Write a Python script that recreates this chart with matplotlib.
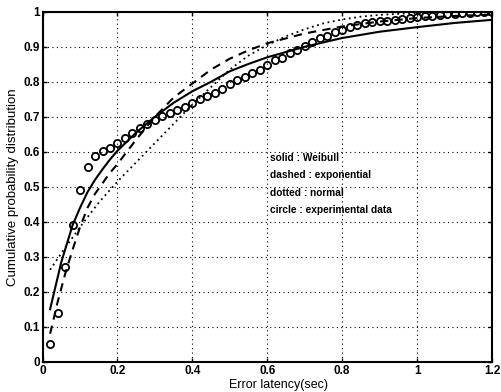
import matplotlib

matplotlib.use("Agg")
import matplotlib.pyplot as plt

plt.rcParams.update(
    {
        "font.family": "Liberation Sans",
        "font.size": 8,
        "font.weight": "bold",
        "xtick.direction": "in",
        "ytick.direction": "in",
        "xtick.top": True,
        "ytick.right": True,
    }
)

# experimental data (circles)
x_exp = [0.02, 0.04, 0.06, 0.08, 0.10, 0.12, 0.14, 0.16, 0.18, 0.20,
         0.22, 0.24, 0.26, 0.28, 0.30, 0.32, 0.34, 0.36, 0.38, 0.40,
         0.42, 0.44, 0.46, 0.48, 0.50, 0.52, 0.54, 0.56, 0.58, 0.60,
         0.62, 0.64, 0.66, 0.68, 0.70, 0.72, 0.74, 0.76, 0.78, 0.80,
         0.82, 0.84, 0.86, 0.88, 0.90, 0.92, 0.94, 0.96, 0.98, 1.00,
         1.02, 1.04, 1.06, 1.08, 1.10, 1.12, 1.14, 1.16, 1.18, 1.20]
y_exp = [0.05, 0.14, 0.27, 0.39, 0.49, 0.557, 0.587, 0.601, 0.612, 0.626,
         0.638, 0.654, 0.668, 0.68, 0.692, 0.703, 0.71, 0.72, 0.729, 0.739,
         0.75, 0.759, 0.769, 0.779, 0.793, 0.805, 0.815, 0.825, 0.834, 0.848,
         0.862, 0.868, 0.882, 0.891, 0.901, 0.915, 0.924, 0.93, 0.943, 0.949,
         0.957, 0.963, 0.968, 0.972, 0.973, 0.975, 0.977, 0.979, 0.982, 0.985,
         0.987, 0.989, 0.991, 0.993, 0.995, 0.996, 0.997, 0.998, 0.999, 1.0]

# Weibull fit (solid)
x_wb = [0.02, 0.03, 0.04, 0.05, 0.06, 0.08, 0.10, 0.12, 0.14, 0.16, 0.18, 0.20,
        0.25, 0.30, 0.35, 0.40, 0.45, 0.50, 0.55, 0.60, 0.70, 0.80, 0.90, 1.00, 1.10, 1.20]
y_wb = [0.15, 0.195, 0.24, 0.285, 0.32, 0.39, 0.44, 0.485, 0.52, 0.55, 0.578, 0.603,
        0.655, 0.70, 0.74, 0.773, 0.80, 0.83, 0.851, 0.87, 0.90, 0.925, 0.943, 0.956, 0.968, 0.977]

# exponential fit (dashed)
x_ex = [0.02, 0.04, 0.06, 0.08, 0.10, 0.12, 0.14, 0.16, 0.18, 0.20, 0.25, 0.30,
        0.35, 0.40, 0.45, 0.50, 0.55, 0.60, 0.70, 0.80, 0.90, 1.00, 1.10, 1.20]
y_ex = [0.08, 0.17, 0.25, 0.32, 0.385, 0.44, 0.48, 0.51, 0.54, 0.565, 0.635, 0.70,
        0.755, 0.795, 0.835, 0.866, 0.89, 0.91, 0.938, 0.958, 0.972, 0.982, 0.988, 0.992]

# normal fit (dotted)
x_nm = [0.02, 0.05, 0.10, 0.15, 0.20, 0.25, 0.30, 0.35, 0.40, 0.45, 0.50, 0.55,
        0.60, 0.65, 0.70, 0.75, 0.80, 0.85, 0.90, 0.95, 1.00, 1.10, 1.20]
y_nm = [0.263, 0.31, 0.385, 0.455, 0.515, 0.57, 0.625, 0.68, 0.735, 0.785, 0.835, 0.875,
        0.905, 0.93, 0.95, 0.967, 0.978, 0.986, 0.991, 0.994, 0.996, 0.999, 1.0]

legend_lines = ["solid : Weibull", "dashed : exponential", "dotted : normal",
                "circle : experimental data"]

fig = plt.figure(figsize=(5.01, 3.92), dpi=100)
ax = fig.add_axes([0.085, 0.077, 0.897, 0.893])

ax.plot(x_wb, y_wb, color="black", lw=1.5)
ax.plot(x_ex, y_ex, color="black", lw=1.5, ls=(0, (4, 3)))
ax.plot(x_nm, y_nm, color="black", lw=1.3, ls=(0, (1, 2)))
ax.plot(x_exp, y_exp, "o", mfc="none", mec="black", mew=1.3, ms=5.2)

for i, t in enumerate(legend_lines):
    ax.text(0.608, 0.583 - 0.05 * i, t, fontsize=7.3, va="center", ha="left")

ax.set_xlim(0, 1.2)
ax.set_ylim(0, 1)
ax.set_xticks([0, 0.2, 0.4, 0.6, 0.8, 1.0, 1.2])
ax.set_xticklabels(["0", "0.2", "0.4", "0.6", "0.8", "1", "1.2"])
ax.set_yticks([i / 10 for i in range(11)])
ax.set_yticklabels(["0", "0.1", "0.2", "0.3", "0.4", "0.5", "0.6", "0.7", "0.8", "0.9", "1"])
ax.tick_params(labelsize=8.5, length=3, width=1, pad=2)
ax.grid(True, color="black", ls=(0, (1, 3)), lw=0.8)
for s in ax.spines.values():
    s.set_linewidth(1.5)

ax.set_xlabel("Error latency(sec)", fontsize=9)
ax.xaxis.set_label_coords(0.525, -0.048)
ax.set_ylabel("Cumulative probability distribution", fontsize=9.5, labelpad=3)

fig.savefig("out.png", dpi=100)
